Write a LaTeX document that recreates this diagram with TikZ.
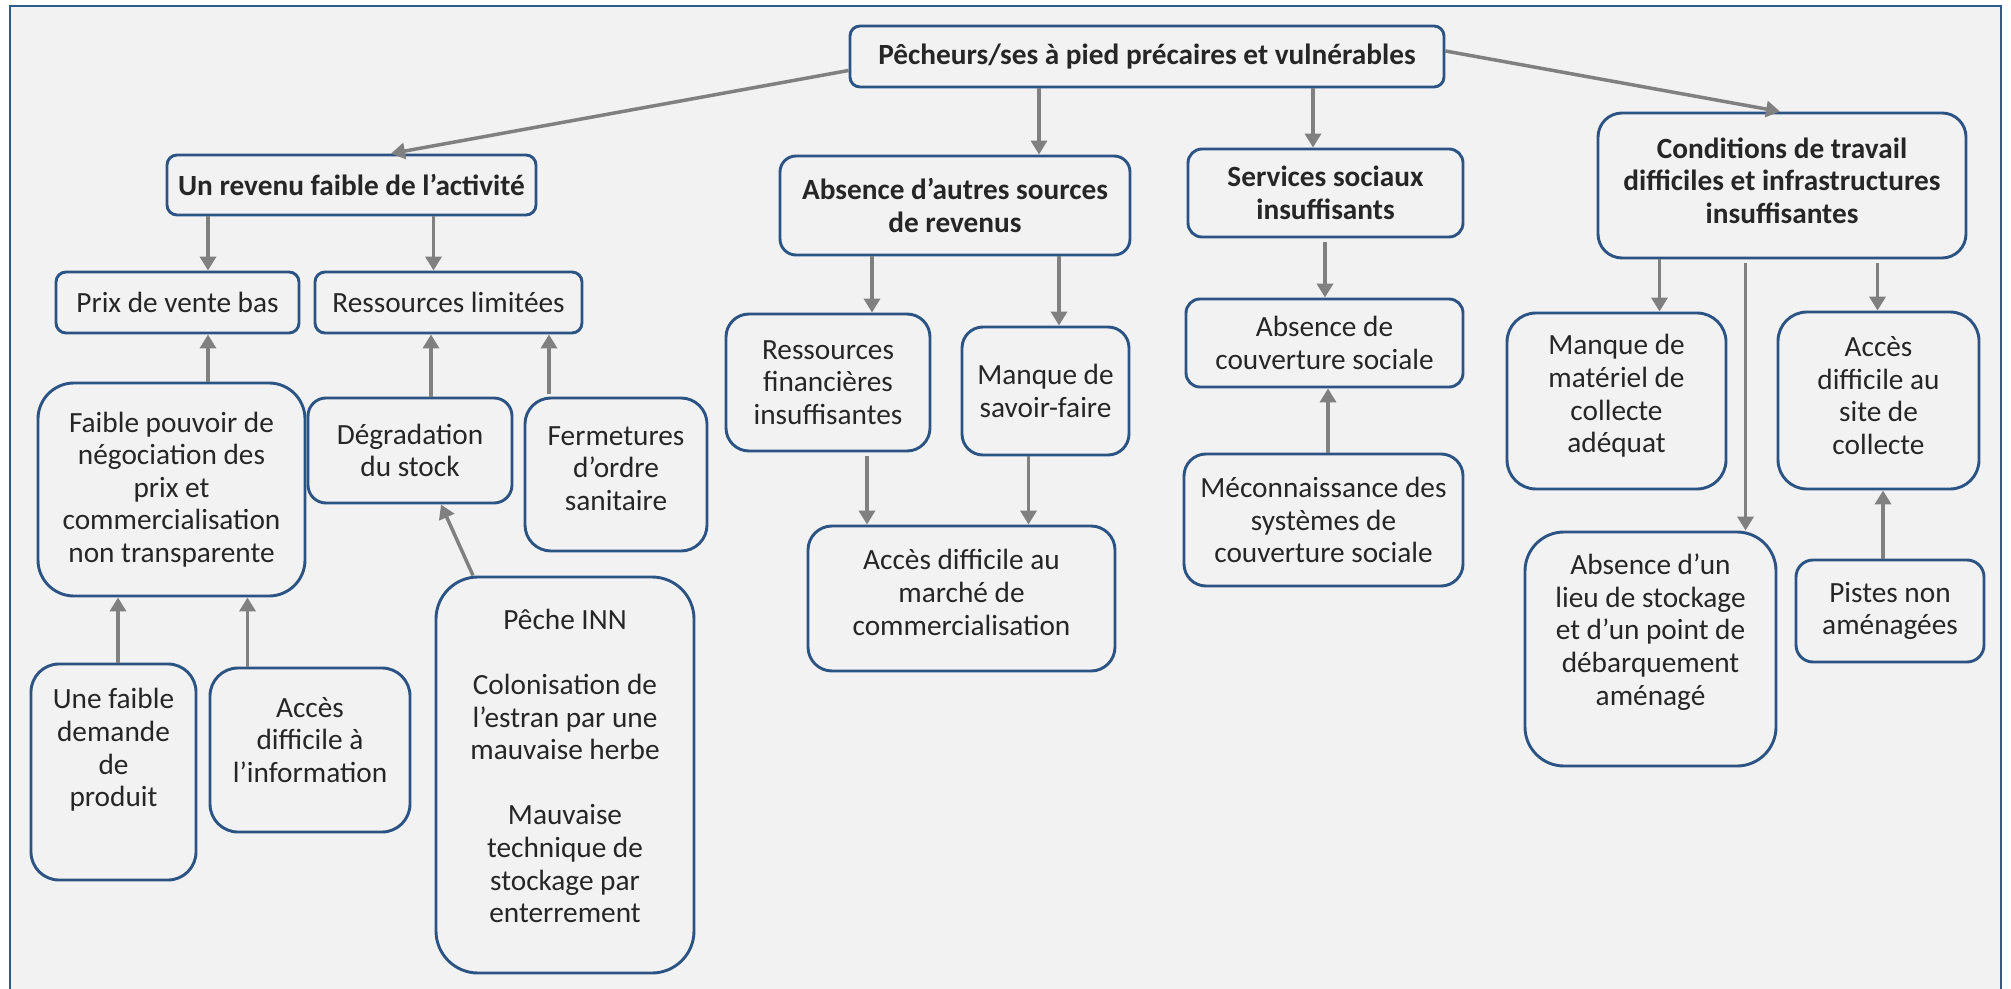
\documentclass[tikz,border=0pt]{standalone}
\usepackage{fontspec}
\setmainfont{Carlito}
\usetikzlibrary{arrows.meta,calc}
\definecolor{bg}{HTML}{F2F2F2}
\definecolor{edge}{HTML}{2B5384}
\definecolor{frameblue}{HTML}{2F5A8C}
\definecolor{arrowgray}{HTML}{808080}
\definecolor{ink}{HTML}{262626}
\newdimen\pxu \pxu=0.5pt
% cell content: width, height, extra bottom space (lifts the text), text
\newcommand\cell[4]{\parbox[c][#2\pxu][c]{#1\pxu}{\centering #4\par\vspace*{#3\pxu}}}
\begin{document}
\begin{tikzpicture}[x=0.5pt,y=-0.5pt,
  box/.style={draw=edge, line width=1.45pt, fill=bg, inner sep=0pt, text=ink,
    font=\fontsize{14.65}{16.3}\selectfont},
  head/.style={box, font=\fontsize{14.65}{16.3}\selectfont\bfseries},
  arr/.style={draw=arrowgray, line width=1.75pt, -{Triangle[width=8pt,length=7pt]}}]
\useasboundingbox (0,0) rectangle (2011,989);
\fill[white] (0,0) rectangle (2011,989);
\fill[bg] (10,6) rectangle (2001,989);
\draw[frameblue, line width=1pt] (10,995) -- (10,6) -- (2001,6) -- (2001,995);

% level 0
\node[head, rounded corners=5pt] (top) at (1147,56.5) {\cell{594}{61}{0}{Pêcheurs/ses à pied précaires et vulnérables}};

% level 1
\node[head, rounded corners=5pt] (revenu) at (351.5,185) {\cell{369}{60}{0}{Un revenu faible de l’activité}};
\node[head, rounded corners=8pt] (absence) at (955,205.5) {\cell{350}{99}{0}{Absence d’autres sources\\de revenus}};
\node[head, rounded corners=7pt] (services) at (1325.5,193) {\cell{275}{88}{0}{Services sociaux\\insuffisants}};
\node[head, rounded corners=12pt] (conditions) at (1782,185.5) {\cell{368}{145}{10}{Conditions de travail\\difficiles et infrastructures\\insuffisantes}};

% revenue branch
\node[box, rounded corners=5pt] (prix) at (177.5,302.5) {\cell{243}{61}{0}{Prix de vente bas}};
\node[box, rounded corners=5pt] (resslim) at (448.5,302.5) {\cell{267}{61}{0}{Ressources limitées}};
\node[box, rounded corners=18pt] (faible) at (171.5,489.5) {\cell{267}{213}{0}{Faible pouvoir de\\négociation des\\prix et\\commercialisation\\non transparente}};
\node[box, rounded corners=9pt] (degrad) at (410,450.5) {\cell{204}{105}{0}{Dégradation\\du stock}};
\node[box, rounded corners=13pt] (ferm) at (616,474.5) {\cell{182}{153}{12}{Fermetures\\d’ordre\\sanitaire}};
\node[box, rounded corners=14pt] (demande) at (113.5,772) {\cell{165}{216}{44}{Une faible\\demande\\de\\produit}};
\node[box, rounded corners=14pt] (info) at (310,750) {\cell{200}{164}{20}{Accès\\difficile à\\l’information}};
\node[box, rounded corners=21pt] (peche) at (565,775) {\cell{258}{396}{18}{Pêche INN\\[16.3pt]Colonisation de\\l’estran par une\\mauvaise herbe\\[16.3pt]Mauvaise\\technique de\\stockage par\\enterrement}};

% other income branch
\node[box, rounded corners=11.5pt] (ressfin) at (828,382.5) {\cell{204}{137}{0}{Ressources\\financières\\insuffisantes}};
\node[box, rounded corners=10.5pt] (savoir) at (1045.5,391) {\cell{167}{128}{0}{Manque de\\savoir-faire}};
\node[box, rounded corners=12pt] (marche) at (961.5,598.5) {\cell{307}{145}{12}{Accès difficile au\\marché de\\commercialisation}};

% social services branch
\node[box, rounded corners=7pt] (couv) at (1324.5,343) {\cell{277}{88}{0}{Absence de\\couverture sociale}};
\node[box, rounded corners=11pt] (mecon) at (1323.5,520) {\cell{279}{132}{0}{Méconnaissance des\\systèmes de\\couverture sociale}};

% working conditions branch
\node[box, rounded corners=14.5pt] (materiel) at (1616.5,401) {\cell{219}{176}{10}{Manque de\\matériel de\\collecte\\adéquat}};
\node[box, rounded corners=14.5pt] (site) at (1878.5,400.5) {\cell{201}{177}{10}{Accès\\difficile au\\site de\\collecte}};
\node[box, rounded corners=19.5pt] (lieu) at (1650.5,649) {\cell{251}{234}{34}{Absence d’un\\lieu de stockage\\et d’un point de\\débarquement\\aménagé}};
\node[box, rounded corners=8.5pt] (pistes) at (1890,611) {\cell{188}{102}{0}{Pistes non\\aménagées}};

% columns of the vertical connectors
\coordinate (cA) at (208,0);
\coordinate (cB) at (433.5,0);
\coordinate (cC) at (431,0);
\coordinate (cD) at (549,0);
\coordinate (cE) at (118,0);
\coordinate (cF) at (247.5,0);
\coordinate (cG) at (1039,0);
\coordinate (cH) at (1313,0);
\coordinate (cI) at (872,0);
\coordinate (cJ) at (1059,0);
\coordinate (cK) at (867,0);
\coordinate (cL) at (1028.5,0);
\coordinate (cM) at (1325,0);
\coordinate (cN) at (1328,0);
\coordinate (cO) at (1659.5,0);
\coordinate (cP) at (1745.5,0);
\coordinate (cQ) at (1877.5,0);
\coordinate (cR) at (1883,0);

% connectors from the top
\draw[arr] ($(top.west)+(0,14)$) -- ($(revenu.north)+(39.5,0)$);
\draw[arr] (top.south -| cG) -- (absence.north -| cG);
\draw[arr] (top.south -| cH) -- (services.north -| cH);
\draw[arr] ($(top.east)+(0,-5.5)$) -- ($(conditions.north)+(-2,0)$);

% revenue branch
\draw[arr] (revenu.south -| cA) -- (prix.north -| cA);
\draw[arr] (revenu.south -| cB) -- (resslim.north -| cB);
\draw[arr] (faible.north -| cA) -- (prix.south -| cA);
\draw[arr] (degrad.north -| cC) -- (resslim.south -| cC);
\draw[arr] ($(ferm.north -| cD)+(0,-3)$) -- (resslim.south -| cD);
\draw[arr] ($(peche.north)+(-92,0)$) -- ($(degrad.south)+(31,0)$);
\draw[arr] (demande.north -| cE) -- (faible.south -| cE);
\draw[arr] (info.north -| cF) -- (faible.south -| cF);

% other income branch
\draw[arr] (absence.south -| cI) -- (ressfin.north -| cI);
\draw[arr] (absence.south -| cJ) -- (savoir.north -| cJ);
\draw[arr] ($(ressfin.south -| cK)+(0,4)$) -- (marche.north -| cK);
\draw[arr] (savoir.south -| cL) -- (marche.north -| cL);

% social services branch
\draw[arr] ($(services.south -| cM)+(0,4)$) -- (couv.north -| cM);
\draw[arr] (mecon.north -| cN) -- (couv.south -| cN);

% working conditions branch
\draw[arr] (conditions.south -| cO) -- (materiel.north -| cO);
\draw[arr] ($(conditions.south -| cP)+(0,4)$) -- (lieu.north -| cP);
\draw[arr] ($(conditions.south -| cQ)+(0,4)$) -- (site.north -| cQ);
\draw[arr] (pistes.north -| cR) -- (site.south -| cR);
\end{tikzpicture}
\end{document}
